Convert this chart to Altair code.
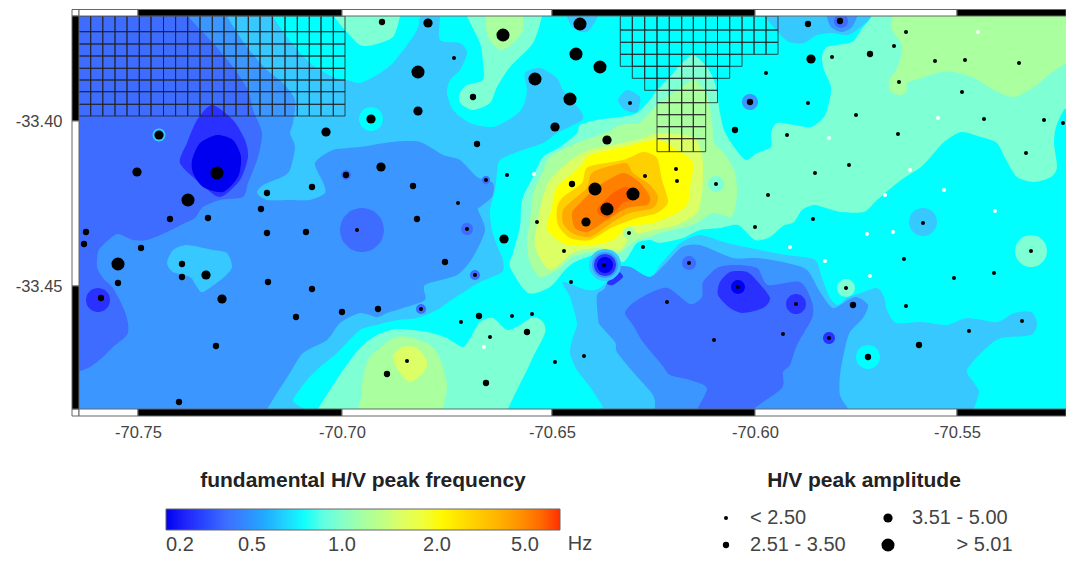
import altair as alt
import pandas as pd

# ---- calibration: picture position of graticule lines ------------------------
X_TICK_PX = [138, 342, 552, 755, 957]
Y_TICK_PX = [121, 286]
X_LEFT, X_RIGHT, Y_TOP, Y_BOTTOM = 79, 1066, 16, 409

def lon(px):
    return -70.75 + (px - 138) / 4095.0

def lat(py):
    return -33.40 - (py - 121) / 3300.0

# ---- colour levels of the frequency map ---------------------------------------
LEVEL_BAR_PX = [166, 195, 225, 255, 280, 303, 335, 365, 400, 437, 475, 505, 530, 545, 560]
LEVEL_COLORS = ["#0000f0", "#2a30ff", "#3d6cff", "#3b96ff", "#36c8ff", "#00ffff", "#7fffd4",
                "#aaff9f", "#dcff66", "#ffff00", "#ffd000", "#ffaa00", "#ff8000", "#ff6000", "#ff3000"]
LEGEND_TICK_PX = [166, 252, 342, 437, 525]
LEGEND_TICK_LABELS = ["0.2", "0.5", "1.0", "2.0", "5.0"]

# ---- filled contour regions, painted in this order ---------------------------
CONTOURS = [
 (5, [(40,-20),(1110,-20),(1110,440),(40,440)]),
 # west low-frequency basin
 (4, [(70,5),(273,5),(273,16),(287,37),(310,63),(333,77),(347,80),(360,83),(377,75),(393,63),(413,37),(418,27),(420,16),(420,5),(440,5),(440,16),(440,40),(460,43),(467,53),(460,70),(450,80),(447,93),(453,110),(470,123),(493,127),(513,117),(523,107),(527,90),(525,73),(540,68),(557,78),(563,90),(580,110),(582,120),(557,133),(543,143),(517,152),(500,160),(497,173),(495,190),(490,210),(492,230),(498,248),(503,260),(502,272),(480,282),(467,290),(447,303),(437,310),(417,318),(397,320),(377,325),(360,330),(337,353),(320,367),(307,380),(293,400),(293,415),(70,415)]),
 # south-east basin
 (4, [(563,282),(587,290),(600,288),(623,270),(650,277),(660,265),(675,248),(682,242),(700,235),(727,243),(760,250),(787,255),(810,258),(817,262),(822,278),(830,298),(838,305),(847,298),(861,293),(877,288),(884,297),(887,310),(896,323),(921,322),(947,325),(967,318),(997,322),(1014,313),(1031,312),(1037,323),(1031,335),(1001,338),(984,350),(967,370),(974,383),(979,392),(974,409),(974,415),(605,415),(603,407),(590,387),(577,370),(570,353),(573,337),(577,323),(570,297)]),
 (3, [(70,5),(227,5),(227,16),(247,47),(267,70),(283,83),(295,100),(293,123),(290,133),(295,147),(290,170),(282,177),(263,185),(257,193),(267,200),(290,200),(310,200),(325,193),(323,182),(315,163),(333,150),(360,147),(393,142),(420,142),(443,155),(460,160),(477,177),(493,183),(492,197),(480,207),(478,210),(485,230),(473,257),(457,275),(425,285),(425,300),(403,308),(387,313),(377,317),(360,313),(340,323),(327,340),(303,353),(290,373),(277,393),(267,409),(262,415),(70,415)]),
 (3, [(605,288),(613,268),(630,267),(650,277),(667,262),(682,247),(700,245),(733,258),(757,258),(787,263),(807,270),(820,292),(833,308),(848,300),(857,297),(868,305),(863,318),(850,332),(845,348),(840,375),(840,395),(848,409),(848,415),(655,415),(655,408),(653,395),(633,372),(617,352),(615,342),(600,325),(598,317),(597,295)]),
 (2, [(70,5),(188,5),(188,16),(213,43),(233,67),(248,90),(253,110),(262,133),(258,157),(248,183),(243,197),(220,200),(203,207),(195,218),(185,223),(167,232),(147,240),(133,240),(117,234),(103,245),(98,252),(97,267),(103,278),(113,288),(123,307),(128,323),(127,335),(113,347),(103,357),(90,367),(78,372),(70,376)]),
 (2, [(625,313),(633,303),(650,293),(668,288),(690,304),(702,297),(703,282),(717,268),(733,265),(757,268),(768,285),(800,282),(812,302),(812,318),(797,345),(790,365),(783,372),(782,388),(755,408),(755,415),(698,415),(698,408),(707,388),(690,380),(670,375),(662,365),(643,342),(633,325)]),
 (1, [(212,105),(233,120),(245,140),(248,157),(240,180),(220,197),(200,183),(180,163),(187,143),(197,120)]),
 (0, [(192,160),(200,143),(217,135),(233,140),(241,157),(238,177),(223,192),(203,187),(193,173)]),
 (1, [(718,295),(720,282),(730,272),(747,272),(758,282),(770,298),(763,308),(743,313),(730,308)]),
 # lighter islands inside the basin
 (4, [(167,263),(173,250),(187,245),(213,250),(227,253),(232,267),(223,278),(203,292),(197,287),(190,277),(173,272)]),
 # high-frequency areas
 (6, [(528,293),(510,267),(513,253),(520,227),(522,200),(533,177),(543,157),(560,147),(577,133),(580,125),(597,120),(620,117),(637,113),(650,100),(657,90),(670,77),(680,65),(693,55),(707,67),(715,83),(718,100),(720,113),(724,130),(734,147),(746,160),(757,153),(771,147),(771,133),(777,123),(794,125),(811,127),(824,117),(829,103),(831,87),(824,70),(822,57),(827,47),(852,42),(861,30),(871,17),(871,5),(1085,5),(1085,105),(1074,105),(1064,110),(1056,127),(1054,143),(1057,167),(1051,177),(1034,182),(1017,177),(1006,160),(997,143),(981,137),(961,132),(944,142),(934,153),(921,167),(901,180),(877,200),(864,212),(841,212),(826,208),(814,205),(802,210),(794,222),(783,226),(770,237),(755,240),(738,225),(720,228),(700,230),(683,238),(660,243),(650,240),(637,243),(628,257),(622,262),(610,250),(593,255),(575,262),(565,270),(550,287)]),
 (6, [(334,5),(334,16),(345,30),(360,45),(373,45),(393,37),(400,16),(400,5)]),
 (6, [(467,5),(467,16),(480,43),(483,63),(483,80),(467,85),(460,93),(460,103),(473,110),(490,103),(497,87),(510,67),(533,43),(542,16),(542,5)]),
 (7, [(485,5),(485,16),(488,37),(500,50),(513,43),(523,30),(523,16),(523,5)]),
 (4, [(567,5),(567,16),(573,28),(587,32),(598,16),(598,5)]),
 (4, [(618,100),(627,90),(640,97),(637,112),(625,110)]),
 (4, [(766,5),(766,17),(779,33),(789,42),(804,43),(817,35),(831,33),(847,35),(857,30),(871,17),(871,5)]),
 (3, [(827,5),(827,17),(831,27),(841,32),(851,28),(857,17),(857,5)]),
 (7, [(892,5),(892,17),(892,30),(901,43),(901,57),(896,70),(889,80),(891,92),(901,95),(907,90),(907,83),(921,78),(941,72),(954,72),(974,78),(994,90),(1014,97),(1034,87),(1051,73),(1067,63),(1085,58),(1085,5)]),
 (7, [(714,143),(724,153),(734,170),(737,187),(736,203),(731,217),(713,213),(693,225),(660,233),(650,237),(637,240),(627,247),(620,253),(593,252),(573,257),(557,270),(540,277),(530,263),(527,243),(530,220),(533,193),(542,173),(550,157),(577,143),(607,132),(620,125),(640,122),(657,105),(680,88),(695,80),(707,95),(712,120)]),
 (8, [(550,270),(535,247),(538,220),(543,197),(550,180),(567,163),(590,150),(637,140),(660,133),(693,137),(702,155),(703,173),(702,193),(697,213),(677,225),(653,230),(630,237),(620,250),(597,248),(573,253)]),
 (9, [(547,230),(552,207),(557,187),(580,167),(590,155),(623,147),(657,140),(677,150),(693,163),(690,187),(688,203),(677,213),(653,223),(627,227),(613,240),(593,245),(567,245)]),
 (10, [(557,208),(563,197),(582,183),(588,167),(623,160),(643,152),(657,158),(662,180),(668,202),(657,213),(637,218),(613,227),(590,240),(570,238),(558,225)]),
 (11, [(563,210),(573,200),(587,188),(593,172),(625,163),(633,173),(650,185),(658,197),(653,208),(630,213),(613,222),(590,237),(572,233),(563,223)]),
 (12, [(572,213),(580,203),(597,187),(623,173),(640,183),(650,197),(647,205),(627,208),(607,220),(588,232),(575,228)]),
 (13, [(597,210),(613,193),(627,187),(640,197),(623,203),(608,218)]),
 # south-central high
 (6, [(360,348),(377,335),(397,329),(427,332),(447,338),(463,347),(472,335),(480,322),(493,318),(507,330),(520,325),(533,317),(543,322),(545,333),(533,357),(527,370),(517,390),(508,409),(508,415),(318,415),(318,409),(330,390),(343,370)]),
 (7, [(363,377),(370,357),(393,338),(410,337),(433,347),(443,367),(447,387),(443,409),(443,415),(363,415),(362,395)]),
 (8, [(393,357),(402,347),(417,348),(427,362),(423,373),(410,382),(400,373)]),
 (1, [(607,283),(618,272),(623,277),(613,285)]),
]

# rings round single stations: x, y, radius, level
RINGS = [
 (159,135,6.5,4),(371,119,12,5),(362,230,22,2),(467,229,6,2),(475,275,5,2),(421,309,5,2),
 (346,175,5,2),(486,180,4,2),(98,300,12,1),(689,263,7,2),(829,338,6,1),(796,304,10,1),
 (738,287,7,0),(841,21,7,2),(750,102,8,3),(868,357,12,5),(923,222,14,4),
 (1031,251,16,6),(846,288,9,6),(716,184,13,7),(716,184,8,6),(629,233,6,7),
 (605,265,16,4),(605,265,13,3),(605,265,11,1),(605,265,8,0),
]
RING_UNIT = [(1,0),(.87,.5),(.5,.87),(0,1),(-.5,.87),(-.87,.5),(-1,0),(-.87,-.5),(-.5,-.87),(0,-1),(.5,-.87),(.87,-.5)]

# ---- stations: x, y, amplitude class ------------------------------------------
AMP_LABELS = ["< 2.50", "2.51 - 3.50", "3.51 - 5.00", "> 5.01"]
AMP_SIZES = [16, 40, 85, 170]
BLACK_STATIONS = [
 (159,135,2),(137,172,2),(217,173,3),(188,200,3),(326,132,2),(267,193,1),(312,187,1),(346,175,1),(261,209,1),(170,219,1),(208,218,1),
 (86,232,1),(84,244,1),(141,248,1),(118,264,3),(118,283,1),(101,298,1),(182,264,1),(182,277,1),(206,275,2),(222,299,2),(267,233,1),(306,232,1),
 (357,230,0),(268,282,1),(312,289,1),(342,312,1),(296,317,1),(216,346,1),(179,402,1),
 (382,22,1),(428,23,2),(503,35,3),(580,24,3),(454,58,0),(418,72,3),(576,54,3),(600,67,3),(535,79,3),(473,97,1),(570,99,3),(630,103,0),(418,111,2),
 (371,119,2),(555,127,2),(477,144,1),(607,140,2),(381,167,2),(413,186,1),(486,180,0),(507,175,0),(458,203,0),(572,184,1),(595,189,3),(633,194,3),
 (607,209,3),(586,222,2),(645,176,0),(676,169,0),(677,181,0),(716,184,0),(417,219,1),
 (808,24,1),(840,21,1),(906,32,0),(894,46,0),(832,57,0),(870,54,1),(811,59,2),(935,61,0),(965,60,0),(1019,63,0),(766,73,0),(899,82,0),(962,92,0),
 (750,102,1),(808,103,0),(856,115,0),(984,119,0),(1044,120,0),(1063,123,0),(735,130,1),(787,135,0),(898,134,0),(1026,153,0),(849,165,0),(815,173,0),
 (768,195,0),(813,219,0),(755,227,0),(923,223,0),(904,259,0),(954,278,0),(994,273,0),(1031,251,0),(846,288,0),(738,287,0),(796,304,0),(853,305,1),
 (906,306,0),(1022,321,0),(969,331,0),(783,334,0),(829,338,0),(919,345,1),(868,357,1),(714,340,0),
 (537,222,0),(629,233,0),(643,247,0),(504,239,2),(467,229,0),(564,251,0),(445,262,1),(475,275,0),(604,265,0),(571,282,0),(689,263,0),(667,302,0),
 (378,309,1),(421,309,0),(461,322,0),(479,316,1),(512,316,0),(532,314,0),(527,332,1),(490,337,0),(584,356,0),(555,362,0),(407,361,0),(387,374,1),(486,383,1),
]
WHITE_STATIONS = [
 (534,174,0),(978,32,0),(938,118,0),(829,138,0),(910,170,0),(885,195,0),(944,190,0),(995,211,0),(867,234,0),(893,232,0),(790,247,0),(825,261,0),(870,276,0),(484,347,0),
]

# ---- hatched block cells ------------------------------------------------------
WEST_X = [78.5,90.7,102.8,115,127,139.3,151,163.5,175.6,187.7,200,212.3,224,236,248.3,260,272.3,285,297.3,309.3,321,333.3,345]
WEST_Y = [16,31.7,44,56,68.3,80,91.7,104.3,116]
EAST_X = [620.3,632.3,644.7,657,669.3,681.7,693.3,705.7,717.5,729.7,742,754,766,778]
EAST_Y = [16,30,42.3,54.3,66.3,78.3,90.3,102.7,114.7,126.7,138.7,151.7]
EAST_ROW_SPAN = [(0,13),(0,13),(0,13),(0,10),(1,9),(2,8),(3,8),(3,7),(3,7),(3,7),(3,7)]

# ---- graticule frame ----------------------------------------------------------
FRAME_X = [72,79,138,342,552,755,957,1066]
FRAME_X_FILL = ["white","white","black","white","black","white","black"]
FRAME_Y = [16,121,286,409]
FRAME_Y_FILL = ["black","white","black"]

# ---- tables -------------------------------------------------------------------
def shade(level):
    return (LEVEL_BAR_PX[level] - 166) / 394.0

poly_rows = []
pid = 0
def add_poly(level, pts):
    global pid
    for k, (x, y) in enumerate(pts):
        poly_rows.append(dict(poly=pid, k=k, lon=lon(x), lat=lat(y), shade=shade(level)))
    pid += 1
for level, pts in CONTOURS:
    add_poly(level, pts)
for x, y, r, level in RINGS:
    add_poly(level, [(x + r * a, y + r * b) for a, b in RING_UNIT])
polys = pd.DataFrame(poly_rows)

st_rows = [dict(lon=lon(x), lat=lat(y), amp=AMP_LABELS[c], tone="black") for x, y, c in BLACK_STATIONS]
st_rows += [dict(lon=lon(x), lat=lat(y), amp=AMP_LABELS[c], tone="white") for x, y, c in WHITE_STATIONS]
stations = pd.DataFrame(st_rows)

cells = []
for i in range(len(WEST_X) - 1):
    for j in range(len(WEST_Y) - 1):
        cells.append(dict(x=lon(WEST_X[i]), x2=lon(WEST_X[i+1]), y=lat(WEST_Y[j]), y2=lat(WEST_Y[j+1])))
for j, (a, b) in enumerate(EAST_ROW_SPAN):
    for i in range(a, b):
        cells.append(dict(x=lon(EAST_X[i]), x2=lon(EAST_X[i+1]), y=lat(EAST_Y[j]), y2=lat(EAST_Y[j+1])))
cells = pd.DataFrame(cells)

frame = []
for y0, y1 in [(9.5, 16), (409, 416)]:
    for i, f in enumerate(FRAME_X_FILL):
        frame.append(dict(x=lon(FRAME_X[i]), x2=lon(FRAME_X[i+1]), y=lat(y0), y2=lat(y1), fill=f))
for i, f in enumerate(FRAME_Y_FILL):
    frame.append(dict(x=lon(72), x2=lon(79), y=lat(FRAME_Y[i]), y2=lat(FRAME_Y[i+1]), fill=f))
frame = pd.DataFrame(frame)

# ---- scales ---------------------------------------------------------------------
x_scale = alt.Scale(domain=[lon(X_LEFT), lon(X_RIGHT)], nice=False, zero=False)
y_scale = alt.Scale(domain=[lat(Y_BOTTOM), lat(Y_TOP)], nice=False, zero=False)
FONT = "Liberation Sans"

tick_fracs = [(p - 166) / 394.0 for p in LEGEND_TICK_PX]
label_expr = " : ".join(f"abs(datum.value-{f:.5f})<0.001 ? '{l}'" for f, l in zip(tick_fracs, LEGEND_TICK_LABELS)) + " : ''"

fill_legend = alt.Legend(
    title="fundamental H/V peak frequency", orient="none", legendX=87, legendY=454, direction="horizontal",
    gradientLength=394, gradientThickness=21, gradientStrokeColor="#666", gradientStrokeWidth=1,
    values=tick_fracs, labelExpr=label_expr, labelFont=FONT, labelFontSize=20, labelColor="#444",
    labelOffset=5, labelAlign="center", labelOverlap=False, titleFont=FONT, titleFontSize=21, titleFontWeight="bold",
    titleColor="#222", titleAnchor="middle", titlePadding=18, titleLimit=600, padding=0,
)
size_legend = alt.Legend(
    title="H/V peak amplitude", orient="none", legendX=637, legendY=454, columns=2, symbolType="circle",
    symbolFillColor="black", symbolStrokeWidth=0, labelFont=FONT, labelFontSize=20, labelColor="#444",
    labelExpr="indexof(datum.label, '5.01') >= 0 ? '\u200b\u00a0\u00a0\u00a0\u00a0\u00a0\u00a0\u00a0\u00a0> 5.01' : datum.label",
    titleFont=FONT, titleFontSize=21, titleFontWeight="bold", titleColor="#222", titleAnchor="middle",
    titlePadding=17, titleLimit=400, rowPadding=7, columnPadding=32, labelOffset=14, padding=0, symbolOpacity=1,
)

contours = alt.Chart(polys).mark_line(clip=True, strokeWidth=0, interpolate="cardinal-closed", tension=0.25).encode(
    x=alt.X("lon:Q", scale=x_scale, axis=alt.Axis(
        values=[lon(p) for p in X_TICK_PX], title=None, domain=False, ticks=False, grid=False, labelFont=FONT,
        labelFontSize=16.5, labelColor="#444", labelPadding=15, labelFlush=False,
        labelExpr="'-' + format(abs(datum.value), '.2f')")),
    y=alt.Y("lat:Q", scale=y_scale, axis=alt.Axis(
        values=[lat(p) for p in Y_TICK_PX], title=None, domain=False, ticks=False, grid=False, labelFont=FONT,
        labelFontSize=16.5, labelColor="#444", labelPadding=17, labelFlush=False,
        labelExpr="'-' + format(abs(datum.value), '.2f')")),
    order="k:Q",
    detail="poly:N",
    fill=alt.Fill("shade:Q", scale=alt.Scale(domain=[(p - 166) / 394.0 for p in LEVEL_BAR_PX], range=LEVEL_COLORS),
                  legend=fill_legend),
)

hatch = alt.Chart(cells).mark_rect(fillOpacity=0, stroke="#222", strokeWidth=1, strokeOpacity=0.8, clip=True).encode(
    x="x:Q", x2="x2:Q", y="y:Q", y2="y2:Q")

band = alt.Chart(frame).mark_rect(stroke="#666", strokeWidth=1).encode(
    x="x:Q", x2="x2:Q", y="y:Q", y2="y2:Q", fill=alt.Fill("fill:N", scale=None))

points = alt.Chart(stations).mark_circle(opacity=1, clip=True).encode(
    x="lon:Q", y="lat:Q",
    size=alt.Size("amp:N", sort=AMP_LABELS, scale=alt.Scale(type="ordinal", domain=AMP_LABELS, range=AMP_SIZES), legend=size_legend),
    color=alt.Color("tone:N", scale=None),
)

hz = alt.Chart(pd.DataFrame({"t": ["Hz"]})).mark_text(font=FONT, fontSize=20, color="#444").encode(
    text="t:N", x=alt.value(501), y=alt.value(528))

chart = alt.layer(contours, hatch, band, points, hz).resolve_scale(fill="independent").properties(
    width=X_RIGHT - X_LEFT, height=Y_BOTTOM - Y_TOP,
    autosize=alt.AutoSizeParams(type="none"),
    padding={"left": 71, "top": 8, "right": 0, "bottom": 145},
).configure_view(stroke=None)

chart.save("out.html", embed_options={"renderer": "svg", "actions": False})
